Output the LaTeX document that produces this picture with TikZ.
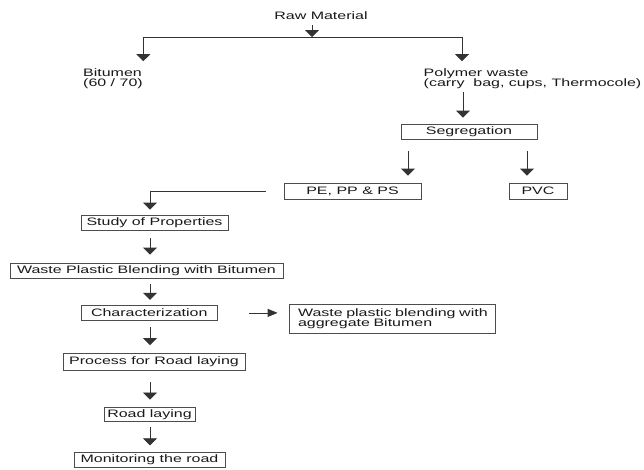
\documentclass[tikz,border=0pt]{standalone}
\usepackage{fontspec}
\setmainfont[FakeStretch=1.48]{Liberation Sans}
\usetikzlibrary{arrows.meta}
\begin{document}
\begin{tikzpicture}[x=1pt,y=-1pt,
  every node/.style={font=\fontsize{10.8}{10.6}\selectfont, text=black!90, inner sep=0pt},
  box/.style={draw=black!70, line width=0.8pt, inner sep=0pt, anchor=center},
  ln/.style={draw=black!80, line width=0.8pt},
  arr/.style={ln, -{Triangle[width=14pt,length=7pt]}},
  harr/.style={ln, -{Triangle[width=8pt,length=10pt]}}]
\useasboundingbox (0,0) rectangle (644,469);
\fill[white] (0,0) rectangle (644,469);

\node (raw) at (321,16) {Raw Material};
\node[anchor=west, align=left] (bit) at (83,78.7) {Bitumen\\(60 / 70)};
\node[anchor=west, align=left] (poly) at (423.5,78.7) {Polymer waste\\(carry\ \ bag, cups, Thermocole)};
\node[box, minimum width=136pt, minimum height=15pt] (seg) at (469,131.5) {Segregation};
\node[box, minimum width=137pt, minimum height=16pt] (pe) at (352.5,191) {PE, PP \& PS};
\node[box, minimum width=58pt, minimum height=16pt] (pvc) at (538,191) {PVC};
\node[box, minimum width=147pt, minimum height=15pt] (study) at (154.5,222.5) {Study of Properties};
\node[box, minimum width=273pt, minimum height=15pt] (wpb) at (146.5,270.5) {Waste Plastic Blending with Bitumen};
\node[box, minimum width=136.5pt, minimum height=15.5pt] (char) at (149.25,312.9) {Characterization};
\node[box, minimum width=206pt, minimum height=29pt, text width=206pt, align=left] (blend) at (392,318.6)
  {\hspace*{9pt}Waste plastic blending with\\\hspace*{9pt}aggregate Bitumen};
\node[box, minimum width=182pt, minimum height=16.5pt] (proc) at (154,361.75) {Process for Road laying};
\node[box, minimum width=91pt, minimum height=14.7pt] (road) at (149.5,414.3) {Road laying};
\node[box, minimum width=151pt, minimum height=14.6pt] (mon) at (149.5,460) {Monitoring the road};

\coordinate (top) at (312,37);
\coordinate (lb) at (143.3,37);
\coordinate (rb) at (462,37);
\coordinate (pa) at (463,0);
\coordinate (s1) at (408,151);
\coordinate (s2) at (527,151);
\coordinate (col) at (150,0);
\coordinate (pl) at (266,191.5);

\draw[arr, shorten <=5pt] (raw.south -| top) -- (top);
\draw[ln] (lb) -- (rb);
\draw[arr, shorten >=7pt] (lb) -- (lb |- bit.north);
\draw[arr, shorten >=7pt] (rb) -- (rb |- poly.north);
\draw[arr, shorten <=3pt, shorten >=6pt] (pa |- poly.south) -- (pa |- seg.north);
\draw[arr, shorten >=7pt] (s1) -- (s1 |- pe.north);
\draw[arr, shorten >=7pt] (s2) -- (s2 |- pvc.north);
\draw[arr, shorten >=5pt] (pl) -| (col |- study.north);
\draw[arr, shorten <=8pt, shorten >=8pt] (col |- study.south) -- (col |- wpb.north);
\draw[arr, shorten <=6pt, shorten >=5pt] (col |- wpb.south) -- (col |- char.north);
\draw[harr, shorten <=31pt, shorten >=11pt] (char.east) -- (char.east -| blend.west);
\draw[arr, shorten <=6pt, shorten >=8pt] (col |- char.south) -- (col |- proc.north);
\draw[arr, shorten <=12pt, shorten >=7pt] (col |- proc.south) -- (col |- road.north);
\draw[arr, shorten <=5pt, shorten >=7pt] (col |- road.south) -- (col |- mon.north);
\end{tikzpicture}
\end{document}
